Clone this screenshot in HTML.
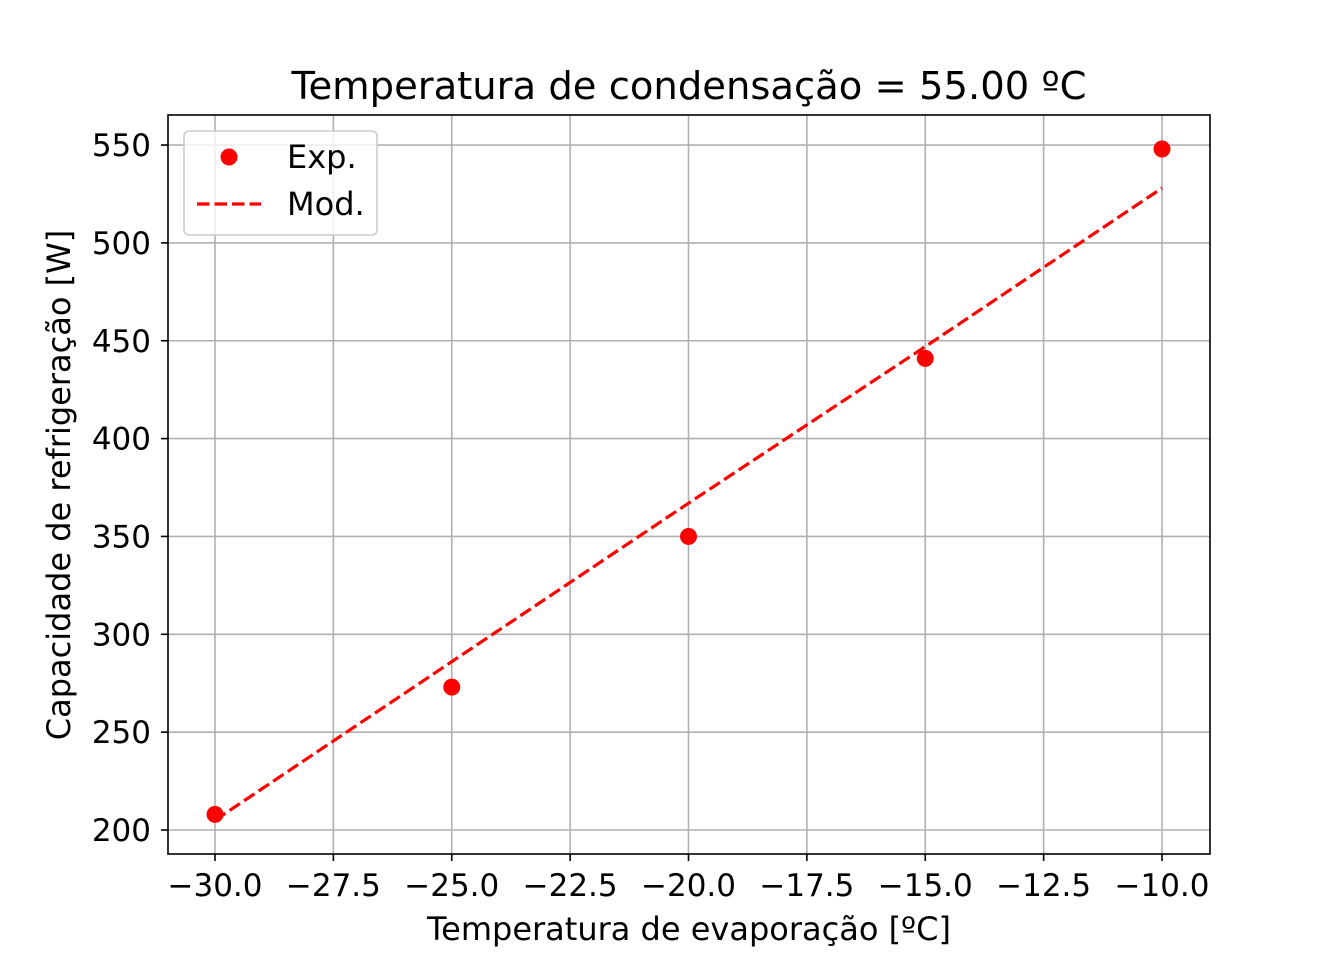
<!DOCTYPE html>
<html><head><meta charset="utf-8"><style>
body{margin:0;background:#fff;}
svg text{font-family:"DejaVu Sans","Liberation Sans",sans-serif;fill:#000;}
</style></head><body>
<svg id="chart" width="1344" height="960" xmlns="http://www.w3.org/2000/svg">
<text x="689" y="99" font-size="38.5" text-anchor="middle">Temperatura de condensação = 55.00 ºC</text>
<text x="689" y="940" font-size="32" text-anchor="middle">Temperatura de evaporação [ºC]</text>
<text transform="translate(70,485) rotate(-90)" font-size="32" text-anchor="middle">Capacidade de refrigeração [W]</text>
<g id="grid"></g><g id="ticks"></g><g id="marks"></g>
<rect x="168" y="115" width="1042" height="739" fill="none" stroke="#000" stroke-width="1.6"/>
<g>
<rect x="184" y="131" width="193" height="104" rx="5" fill="#fff" fill-opacity="0.8" stroke="#ccc" stroke-width="1.6"/>
<circle cx="229" cy="157" r="8.5" fill="#ff0000"/>
<text x="287" y="168" font-size="32">Exp.</text>
<line x1="197" y1="204" x2="261" y2="204" stroke="#ff0000" stroke-width="3.2" stroke-dasharray="12.5,5"/>
<text x="287" y="215" font-size="32">Mod.</text>
</g>
</svg>
<script>
const expX = [-30, -25, -20, -15, -10];
const expY = [208, 273, 350, 441, 548];
const modX = [-30, -25, -20, -15, -10];
const modY = [205, 286, 367, 447, 528];
const xTicks = [-30, -27.5, -25, -22.5, -20, -17.5, -15, -12.5, -10];
const yTicks = [200, 250, 300, 350, 400, 450, 500, 550];
const NS = "http://www.w3.org/2000/svg";
function sx(v){return 215 + (v + 30) * 47.35;}
function sy(v){return 830 - (v - 200) * 1.957;}
function mk(tag, attrs, parent){const e=document.createElementNS(NS,tag);for(const k in attrs)e.setAttribute(k,attrs[k]);document.getElementById(parent).appendChild(e);return e;}
xTicks.forEach(t=>{
  const g=mk("line",{x1:sx(t),x2:sx(t),y1:115,y2:854,stroke:"#b0b0b0","stroke-width":1.6},"grid");
  
  
  const tk=mk("line",{x1:sx(t),x2:sx(t),y1:854,y2:861,stroke:"#000","stroke-width":1.6},"ticks");
  
  
  const lb=mk("text",{x:sx(t),y:896,"font-size":31,"text-anchor":"middle"},"ticks");
  lb.textContent=(t<0?"\u2212":"")+Math.abs(t).toFixed(1);
  
  
});
yTicks.forEach(t=>{
  const g=mk("line",{x1:168,x2:1210,y1:sy(t),y2:sy(t),stroke:"#b0b0b0","stroke-width":1.6},"grid");
  
  
  const tk=mk("line",{x1:161,x2:168,y1:sy(t),y2:sy(t),stroke:"#000","stroke-width":1.6},"ticks");
  
  
  const lb=mk("text",{x:151,y:sy(t)+11,"font-size":31,"text-anchor":"end"},"ticks");
  lb.textContent=t;
  
  
});
const pts=modX.map((x,i)=>sx(x)+","+sy(modY[i])).join(" ");
const pl=mk("polyline",{points:pts,fill:"none",stroke:"#ff0000","stroke-width":3.2,"stroke-dasharray":"12.5,5"},"marks");


expX.forEach((x,i)=>{
  const c=mk("circle",{cx:sx(x),cy:sy(expY[i]),r:8.5,fill:"#ff0000"},"marks");
  
  
});
</script>
</body></html>
